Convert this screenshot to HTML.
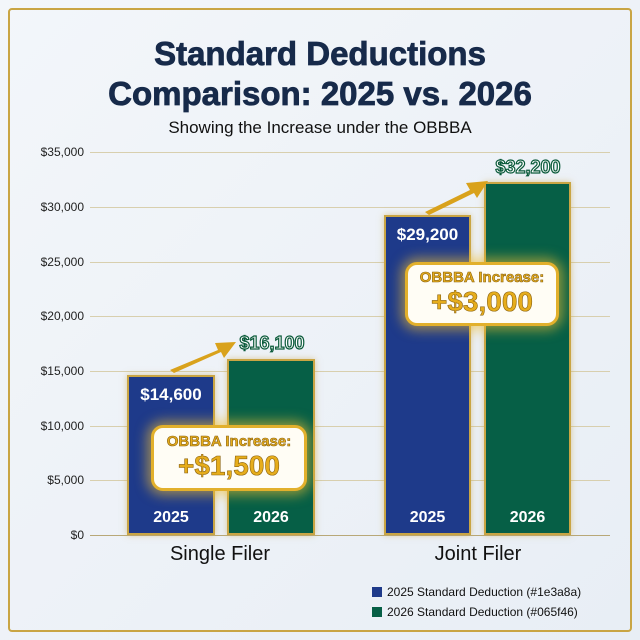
<!DOCTYPE html>
<html><head><style>
body{margin:0;width:640px;height:640px;background:linear-gradient(135deg,#f3f6fa,#e8eef5);font-family:"Liberation Sans",sans-serif;position:relative;overflow:hidden}
.frame{position:absolute;left:8px;top:8px;width:620px;height:620px;border:2px solid #c9a544;border-radius:4px}
.t{position:absolute;width:640px;text-align:center;color:#172a4a;font-weight:bold}
.yl{position:absolute;left:0;width:84px;text-align:right;font-size:12px;color:#222}
.g{position:absolute;left:90px;width:520px;height:1px;background:#d8cfae}
.bar{position:absolute;border:2px solid #c9a544;box-sizing:border-box;box-shadow:0 0 6px rgba(200,160,60,.5)}
.v{position:absolute;width:100%;text-align:center;color:#fff;font-weight:bold;font-size:17px}
.yr{position:absolute;bottom:6px;width:100%;text-align:center;color:#fff;font-weight:bold;font-size:16px}
.call{position:absolute;background:#fffdf5;border:3px solid #e2b02c;border-radius:12px;box-shadow:0 0 12px 4px rgba(240,190,50,.6);text-align:center;color:#e6ad1c;font-weight:bold;-webkit-text-stroke:0.6px #8a6210}
.top{position:absolute;color:#fff;font-weight:bold;font-size:18px;-webkit-text-stroke:1.2px #0a5a3a;text-align:center}
</style></head><body>
<div class="frame"></div>
<div class="t" style="top:35px;font-size:33px;-webkit-text-stroke:0.8px #172a4a">Standard Deductions</div>
<div class="t" style="top:75px;font-size:33px;-webkit-text-stroke:0.8px #172a4a">Comparison: 2025 vs. 2026</div>
<div class="t" style="top:118px;font-size:17px;font-weight:normal;color:#111">Showing the Increase under the OBBBA</div>
<div class="yl" style="top:145px">$35,000</div><div class="g" style="top:152px"></div>
<div class="yl" style="top:200px">$30,000</div><div class="g" style="top:207px"></div>
<div class="yl" style="top:255px">$25,000</div><div class="g" style="top:262px"></div>
<div class="yl" style="top:309px">$20,000</div><div class="g" style="top:316px"></div>
<div class="yl" style="top:364px">$15,000</div><div class="g" style="top:371px"></div>
<div class="yl" style="top:419px">$10,000</div><div class="g" style="top:426px"></div>
<div class="yl" style="top:473px">$5,000</div><div class="g" style="top:480px"></div>
<div class="yl" style="top:528px">$0</div><div class="g" style="top:535px;background:#b8a878"></div>
<div class="bar" style="left:127px;top:375px;width:88px;height:160px;background:#1e3a8a"><div class="v" style="top:8px">$14,600</div><div class="yr">2025</div></div>
<div class="bar" style="left:227px;top:359px;width:88px;height:176px;background:#065f46"><div class="yr">2026</div></div>
<div class="bar" style="left:384px;top:215px;width:87px;height:320px;background:#1e3a8a"><div class="v" style="top:8px">$29,200</div><div class="yr">2025</div></div>
<div class="bar" style="left:484px;top:182px;width:87px;height:353px;background:#065f46"><div class="yr">2026</div></div>
<div class="top" style="left:228px;top:333px;width:88px">$16,100</div>
<div class="top" style="left:484px;top:157px;width:88px">$32,200</div>
<svg style="position:absolute;left:0;top:0" width="640" height="640">
<polygon points="170,370 218,350 215,343 236,342 224,358 221,352 174,373" fill="#d9a21c"/>
<polygon points="425,212 470,190 466,183 488,181 477,198 474,193 429,215" fill="#d9a21c"/>
</svg>
<div class="call" style="left:151px;top:425px;width:150px;height:60px"><div style="font-size:15px;margin-top:5px">OBBBA Increase:</div><div style="font-size:28px">+$1,500</div></div>
<div class="call" style="left:405px;top:262px;width:148px;height:58px"><div style="font-size:15px;margin-top:4px">OBBBA Increase:</div><div style="font-size:28px">+$3,000</div></div>
<div style="position:absolute;left:120px;width:200px;top:543px;text-align:center;font-size:20px;color:#111">Single Filer</div>
<div style="position:absolute;left:378px;width:200px;top:543px;text-align:center;font-size:20px;color:#111">Joint Filer</div>
<div style="position:absolute;left:372px;top:585px;font-size:12px;color:#111"><span style="display:inline-block;width:10px;height:10px;background:#1e3a8a;vertical-align:-1px;margin-right:5px"></span>2025 Standard Deduction (#1e3a8a)</div>
<div style="position:absolute;left:372px;top:605px;font-size:12px;color:#111"><span style="display:inline-block;width:10px;height:10px;background:#065f46;vertical-align:-1px;margin-right:5px"></span>2026 Standard Deduction (#065f46)</div>
</body></html>
